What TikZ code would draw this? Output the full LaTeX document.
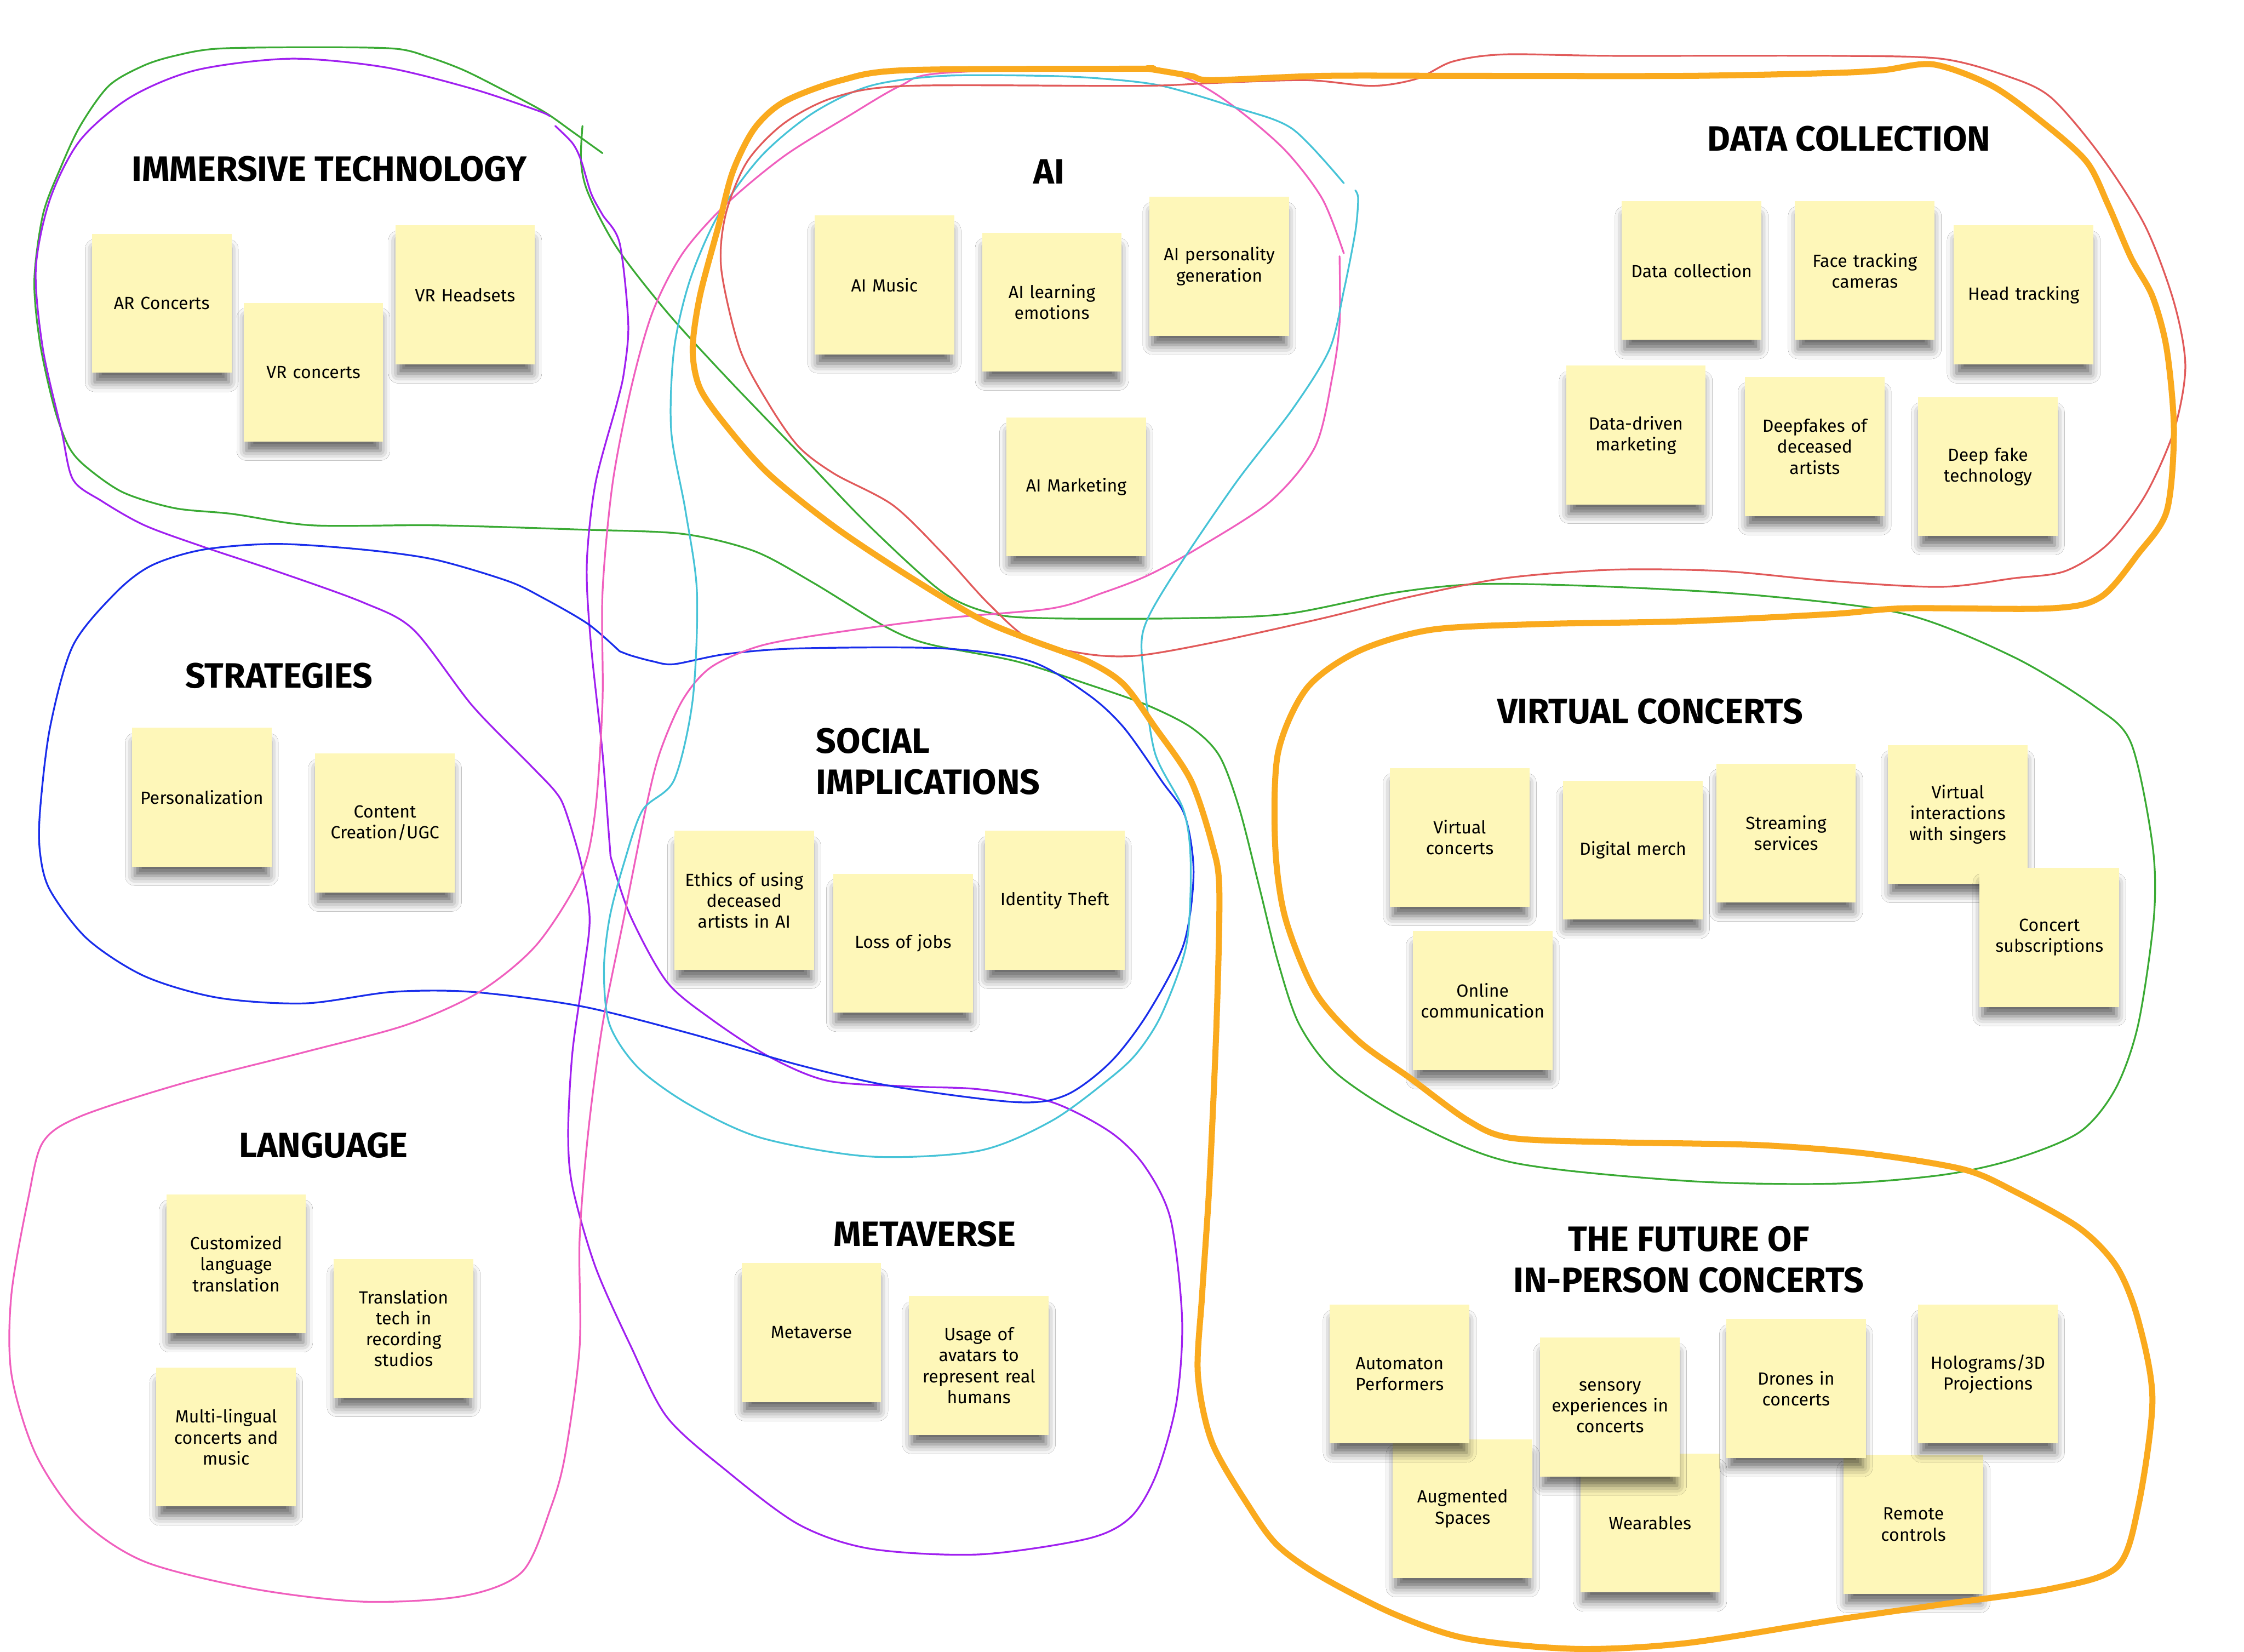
\documentclass[tikz,border=0pt]{standalone}
\usepackage{fontspec}
\setmainfont{Fira Sans}
\newfontfamily\headfont{Fira Sans}
\usepackage{tikz}
\usetikzlibrary{shadows.blur, positioning}
\definecolor{mygreen}{RGB}{58,170,52}
\definecolor{mypurple}{RGB}{160,32,240}
\definecolor{myblue}{RGB}{25,45,235}
\definecolor{mypink}{RGB}{240,95,190}
\definecolor{mycyan}{RGB}{70,195,215}
\definecolor{myred}{RGB}{225,90,90}
\definecolor{myorange}{RGB}{250,170,30}
\definecolor{notefill}{RGB}{254,247,185}
\tikzset{
  sticky/.style={rectangle, fill=notefill, minimum width=1.95cm,
    minimum height=1.94cm, text width=1.8cm, align=center, inner sep=0pt,
    font=\fontsize{7}{8.3}\selectfont,
    blur shadow={shadow xshift=0pt, shadow yshift=-5pt, shadow scale=0.96,
      shadow blur radius=4pt, shadow opacity=60}},
  heading/.style={font=\headfont\bfseries\fontsize{14}{16.4}\selectfont,
    align=center, inner sep=0pt},
  marker/.style={line width=0.7pt, line cap=round, line join=round},
  fatmarker/.style={line width=2.4pt, color=myorange, line cap=round, line join=round}
}

\begin{document}
\begin{tikzpicture}[x=0.02cm, y=-0.02cm]
  \useasboundingbox[fill=white] (0,0) rectangle (1568,1154);

  % headings
  \node[heading] (immersive) at (230,118) {IMMERSIVE TECHNOLOGY};
  \node[heading] (ai) at (733,120) {AI};
  \node[heading] (data) at (1292,97) {DATA COLLECTION};
  \node[heading] (strategies) at (195,472) {STRATEGIES};
  \node[heading, anchor=west, align=left] (social) at (570,532) {SOCIAL\\IMPLICATIONS};
  \node[heading] (virtual) at (1153,497) {VIRTUAL CONCERTS};
  \node[heading] (language) at (226,800) {LANGUAGE};
  \node[heading] (metaverse) at (646,862) {METAVERSE};
  \node[heading] (future) at (1180,880) {THE FUTURE OF\\IN-PERSON CONCERTS};

  % immersive technology
  \node[sticky] (arconc) at (113,212) {AR Concerts};
  \node[sticky] (vrconc) at (219,260) {VR concerts};
  \node[sticky] (vrhead) at (325,206) {VR Headsets};

  % ai
  \node[sticky] (aimusic) at (618,199) {AI Music};
  \node[sticky] (ailearn) at (735,211) {AI learning\\emotions};
  \node[sticky] (aipers) at (852,186) {AI personality\\generation};
  \node[sticky] (aimark) at (752,340) {AI Marketing};

  % data collection
  \node[sticky] (datacoll) at (1182,189) {Data collection};
  \node[sticky] (facetrack) at (1303,189) {Face tracking\\cameras};
  \node[sticky] (headtrack) at (1414,206) {Head tracking};
  \node[sticky] (datadriven) at (1143,304) {Data-driven\\marketing};
  \node[sticky] (deepdead) at (1268,312) {Deepfakes of\\deceased\\artists};
  \node[sticky] (deeptech) at (1389,326) {Deep fake\\technology};

  % strategies
  \node[sticky] (personal) at (141,557) {Personalization};
  \node[sticky] (ugc) at (269,575) {Content\\Creation/UGC};

  % social implications
  \node[sticky] (ethics) at (520,629) {Ethics of using\\deceased\\artists in AI};
  \node[sticky] (jobs) at (631,659) {Loss of jobs};
  \node[sticky] (theft) at (737,629) {Identity Theft};

  % virtual concerts
  \node[sticky] (virtconc) at (1020,585) {Virtual\\concerts};
  \node[sticky] (merch) at (1141,594) {Digital merch};
  \node[sticky] (stream) at (1248,582) {Streaming\\services};
  \node[sticky] (interact) at (1368,569) {Virtual\\interactions\\with singers};
  \node[sticky] (subscr) at (1432,655) {Concert\\subscriptions};
  \node[sticky] (online) at (1036,699) {Online\\communication};

  % language
  \node[sticky] (custom) at (165,883) {Customized\\language\\translation};
  \node[sticky] (transl) at (282,928) {Translation\\tech in\\recording\\studios};
  \node[sticky] (multi) at (158,1004) {Multi-lingual\\concerts and\\music};

  % metaverse
  \node[sticky] (meta) at (567,931) {Metaverse};
  \node[sticky] (avatars) at (684,954) {Usage of\\avatars to\\represent real\\humans};

  % future of in-person concerts
  \node[sticky] (augment) at (1022,1054) {Augmented\\Spaces};
  \node[sticky] (automat) at (978,960) {Automaton\\Performers};
  \node[sticky] (wear) at (1153,1064) {Wearables};
  \node[sticky] (sensory) at (1125,983) {sensory\\experiences in\\concerts};
  \node[sticky] (remote) at (1337,1065) {Remote\\controls};
  \node[sticky] (drones) at (1255,970) {Drones in\\concerts};
  \node[sticky] (holo) at (1389,960) {Holograms/3D\\Projections};

  % hand-drawn groupings
  \draw[marker, mygreen] plot[smooth] coordinates {(421,107) (400,92) (380,78) (350,62)
    (324,49) (300,40) (276,34) (218,33) (152,34) (122,39) (100,46) (76,60) (56,88)
    (42,118) (30,150) (24,196) (28,240) (38,285) (48,312) (60,326) (86,344) (122,355)
    (162,359) (218,367) (304,367) (406,370) (477,373) (527,385) (568,407) (619,438)
    (649,450) (710,462) (760,478) (800,492) (832,508) (852,528) (866,565) (880,620)
    (893,672) (908,716) (934,750) (985,783) (1056,812) (1178,825) (1280,827) (1356,821)
    (1407,810) (1453,791) (1478,761) (1494,716) (1505,641) (1504,590) (1489,519)
    (1463,493) (1407,459) (1331,429) (1229,416) (1127,410) (1036,408) (975,414)
    (898,429) (822,432) (735,432) (695,429) (659,414) (608,368) (558,316) (507,263)
    (466,218) (431,173) (411,135) (406,113) (407,88)};

  \draw[marker, mypurple] plot[smooth] coordinates {(388,88) (400,100) (406,112)
    (413,135) (421,150) (433,170) (439,226) (436,260) (431,282) (416,338) (410,395)
    (413,451) (421,526) (426,590) (428,603) (441,641) (466,686) (497,712) (537,738)
    (578,755) (634,759) (684,761) (735,770) (776,791) (800,815) (818,852) (826,922)
    (822,980) (808,1030) (790,1060) (760,1075) (684,1086) (608,1082) (558,1065)
    (507,1027) (466,990) (441,941) (416,885) (400,829) (397,791) (400,735) (408,678)
    (412,641) (406,603) (395,566) (388,553) (370,534) (330,493) (289,440) (254,421)
    (193,399) (142,382) (101,367) (71,350) (51,335) (43,301) (30,244) (25,188)
    (35,139) (56,98) (91,68) (137,49) (203,41) (269,47) (330,62) (375,77) (384,81)};

  \draw[marker, myblue] plot[smooth] coordinates {(433,455) (411,436) (380,418)
    (355,406) (304,391) (254,384) (193,380) (142,384) (106,395) (81,414) (51,451)
    (35,508) (28,566) (28,596) (35,622) (61,656) (101,682) (152,697) (213,701)
    (274,693) (330,693) (406,703) (482,722) (558,744) (624,759) (710,770) (745,765)
    (776,742) (802,708) (827,660) (834,610) (828,570) (812,546) (785,508) (760,485)
    (720,462) (659,453) (558,453) (507,457) (471,464) (456,462) (441,458) (433,455)};

  \draw[marker, mypink] plot[smooth] coordinates {(936,179) (936,226) (931,263)
    (919,312) (888,350) (837,383) (802,402) (771,414) (735,425) (659,432) (583,442)
    (532,451) (497,466) (477,489) (461,526) (451,566) (436,641) (421,716) (411,791)
    (405,866) (405,941) (395,1016) (385,1053) (365,1098) (324,1115) (254,1119)
    (177,1110) (101,1091) (56,1061) (25,1016) (8,960) (8,904) (20,836) (30,798)
    (56,780) (127,757) (213,735) (284,716) (335,693) (375,660) (406,611) (416,566)
    (421,490) (421,414) (428,338) (441,271) (456,218) (477,177) (507,143) (548,109)
    (593,81) (629,60) (659,51) (795,47) (832,56) (863,75) (898,105) (924,139) (939,177)};

  \draw[marker, mycyan] plot[smooth] coordinates {(939,128) (903,90) (863,75)
    (812,60) (771,55) (730,53) (659,53) (608,60) (568,79) (532,109) (502,150)
    (482,196) (471,244) (469,301) (479,357) (487,414) (484,489) (471,545) (449,566)
    (436,603) (426,641) (422,678) (426,716) (446,746) (482,772) (532,795) (608,808)
    (684,804) (735,783) (776,753) (795,735) (812,708) (829,660) (832,603) (827,566)
    (807,526) (799,470) (799,440) (817,406) (863,338) (903,286) (929,244) (939,203)
    (947,162) (949,139) (947,133)};

  \draw[marker, myred] plot[smooth cycle] coordinates {(795,60) (634,60) (583,68)
    (548,86) (522,113) (507,150) (504,188) (517,244) (537,282) (558,312) (583,331)
    (624,353) (659,387) (690,421) (720,447) (760,457) (795,458) (847,449) (924,432)
    (985,417) (1051,404) (1127,398) (1204,399) (1280,406) (1356,410) (1407,404)
    (1443,399) (1473,380) (1499,346) (1519,301) (1527,256) (1519,211) (1499,158)
    (1468,109) (1433,68) (1402,53) (1356,41) (1280,39) (1127,39) (1051,38) (1015,43)
    (990,55) (959,60) (913,56) (847,58)};

  \draw[fatmarker] plot[smooth cycle] coordinates {(795,48) (634,49) (588,56)
    (548,71) (527,90) (512,120) (502,158) (489,207) (484,244) (489,271) (507,297)
    (537,331) (583,368) (634,402) (684,432) (720,447) (760,462) (785,478) (807,508)
    (832,545) (847,590) (852,622) (850,716) (845,828) (840,904) (837,960) (847,1008)
    (873,1053) (893,1080) (924,1102) (975,1128) (1026,1145) (1102,1152) (1178,1148)
    (1280,1132) (1356,1121) (1433,1110) (1479,1095) (1494,1053) (1504,978) (1494,922)
    (1479,885) (1453,858) (1407,832) (1372,817) (1305,806) (1229,800) (1127,798)
    (1056,795) (1026,783) (985,753) (949,727) (919,693) (898,641) (891,590) (893,526)
    (913,481) (949,455) (1000,440) (1076,436) (1178,434) (1280,429) (1331,425)
    (1433,425) (1468,417) (1494,387) (1514,357) (1519,301) (1514,244) (1504,207)
    (1489,180) (1473,143) (1458,113) (1428,86) (1392,60) (1351,45) (1316,49)
    (1280,51) (1178,53) (1025,53) (924,53) (847,56) (832,53) (802,48)};
\end{tikzpicture}
\end{document}
